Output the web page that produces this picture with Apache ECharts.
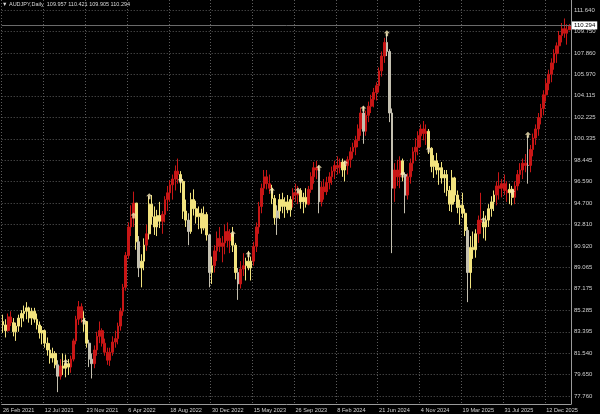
<!DOCTYPE html>
<html><head><meta charset="utf-8">
<script src="https://cdn.jsdelivr.net/npm/echarts@6/dist/echarts.min.js"></script>
<style>html,body{margin:0;padding:0;background:#000;}#c{width:600px;height:414px;}</style>
</head><body><div id="c"></div>
<script>
const headerText = 'AUDJPY,Daily  109.957 110.421 109.905 110.294';
const tickLabels = ['26 Feb 2021','12 Jul 2021','23 Nov 2021','6 Apr 2022','18 Aug 2022','30 Dec 2022','15 May 2023','26 Sep 2023','8 Feb 2024','21 Jun 2024','4 Nov 2024','19 Mar 2025','31 Jul 2025','12 Dec 2025'];
const barsPerLabel = 16;
const yTickValues = [77.760,79.650,81.540,83.395,85.285,87.175,89.065,90.920,92.810,94.700,96.590,98.445,100.335,102.225,104.115,105.970,107.860,109.750,111.640];
const lastPrice = 110.294;
const firstOpen = 84.3;
const closes = [
84.0,83.5,84.7,84.2,83.4,83.9,84.6,85.0,85.2,85.5,
84.6,85.2,84.5,84.0,83.3,83.5,82.4,81.8,81.1,81.5,
80.5,79.5,80.4,80.2,80.6,80.3,81.0,82.6,84.5,85.6,
84.6,84.3,82.4,81.0,80.6,81.8,83.0,83.5,82.4,81.6,
80.9,81.6,82.5,82.8,83.9,85.2,87.3,90.1,92.6,93.4,
94.7,91.3,89.0,89.6,91.0,92.0,94.6,93.5,92.6,93.6,
93.1,93.7,95.0,95.6,96.3,96.8,97.5,97.2,96.6,94.0,
93.2,92.2,95.0,94.2,93.5,93.8,92.5,93.7,91.9,88.6,
89.2,90.5,91.6,90.9,91.2,92.2,91.4,92.0,91.0,88.6,
87.6,88.9,89.2,89.6,89.0,89.6,90.9,92.6,94.4,96.0,
97.0,96.4,96.0,95.1,93.4,94.0,95.0,94.4,94.8,94.1,
95.0,95.6,95.4,95.8,94.8,95.2,94.6,95.9,97.0,97.8,
97.6,94.8,96.1,95.7,96.5,97.0,97.5,98.0,97.8,98.3,
97.6,98.0,98.5,99.2,99.6,100.2,101.2,102.6,101.0,102.4,
103.2,103.8,104.4,105.0,106.3,107.6,108.8,108.0,102.6,96.0,
97.6,97.0,98.4,97.2,95.4,97.0,98.2,99.2,99.6,100.6,
101.2,100.8,101.0,99.5,97.9,98.4,97.6,97.8,96.9,97.2,
95.8,94.6,96.9,95.4,94.3,94.5,93.8,92.3,88.6,90.8,
90.6,92.0,93.2,93.0,92.6,93.2,94.2,94.8,95.4,96.2,
96.0,96.4,95.8,95.6,95.9,95.2,96.2,97.2,97.6,98.2,
98.0,98.0,99.4,100.4,101.2,102.2,103.0,104.2,105.2,106.0,
107.0,107.8,108.5,109.4,110.0,109.6,109.9,110.294];
const lows = [
83.3,82.9,83.4,83.9,83.0,82.6,83.4,83.8,84.3,84.5,
84.2,84.0,84.2,83.6,82.8,82.3,82.0,81.3,80.6,80.7,
80.2,78.1,79.2,79.6,79.4,79.6,79.8,80.8,82.3,84.0,
84.2,83.4,82.0,80.3,79.3,80.2,81.3,82.4,82.1,81.3,
80.5,80.4,81.3,82.0,82.3,83.5,84.8,87.0,89.8,91.8,
92.6,90.6,88.2,87.3,88.8,90.5,91.5,92.8,91.9,91.8,
92.5,92.0,93.0,94.0,94.8,95.0,95.8,96.4,95.6,93.3,
92.6,91.0,92.0,93.6,92.9,92.4,92.0,92.3,91.4,87.3,
87.6,88.6,89.6,90.4,89.5,90.2,90.8,90.3,90.4,88.0,
86.2,87.2,88.3,87.9,88.8,87.9,89.2,90.4,92.0,93.8,
95.4,95.9,95.5,94.6,92.8,91.9,93.3,93.8,93.4,93.8,
93.5,94.3,94.8,94.6,94.2,93.8,94.3,94.5,95.6,96.4,
96.8,93.8,94.4,95.0,95.4,95.9,96.3,96.8,97.2,97.3,
97.0,96.6,97.2,97.8,98.6,98.9,99.6,100.6,99.9,100.6,
101.8,102.6,103.1,103.7,104.4,105.8,107.0,107.6,101.8,90.3,
94.8,96.2,96.0,96.6,93.8,95.0,96.4,97.5,98.4,98.9,
99.6,100.2,99.8,99.0,97.4,96.9,97.2,96.3,96.4,95.6,
95.3,94.0,93.9,94.8,93.8,92.8,93.4,91.8,86.0,87.2,
89.8,89.9,91.2,92.0,91.6,91.4,92.6,93.5,94.0,94.5,
95.0,95.2,95.4,94.8,94.6,94.5,94.6,95.8,96.4,96.8,
97.4,96.4,97.4,98.8,99.8,100.6,101.6,102.4,103.6,104.6,
105.3,106.4,107.0,107.8,108.8,109.2,108.6,109.905];
const highs = [
84.9,84.5,85.0,85.2,84.6,84.2,84.9,85.3,85.7,86.0,
85.6,85.5,85.5,85.0,84.3,83.9,83.6,82.9,82.4,82.0,
81.7,80.9,81.0,81.5,81.4,81.0,81.3,82.8,84.8,86.1,
85.9,85.2,84.0,82.7,81.5,82.2,83.4,84.3,83.7,82.8,
82.0,82.0,83.0,83.5,84.2,85.5,87.6,90.4,93.0,94.5,
95.7,94.5,91.8,90.2,91.6,92.8,95.3,95.4,94.4,94.1,
94.8,94.0,95.3,96.2,96.7,97.2,98.0,98.6,97.5,96.8,
95.0,93.8,95.6,95.9,94.9,94.4,94.2,94.4,93.9,92.0,
90.0,91.0,92.2,92.6,91.8,92.8,93.0,92.4,92.6,91.2,
89.0,89.6,90.3,89.9,90.5,90.0,91.3,93.0,94.8,96.4,
97.6,97.6,97.2,96.3,95.4,94.5,95.5,95.6,95.2,95.4,
95.3,96.0,96.4,96.2,96.0,95.6,96.0,96.2,97.4,98.3,
98.4,98.0,96.6,96.8,97.0,97.4,97.9,98.4,98.8,98.6,
98.6,98.4,98.8,99.6,100.0,100.6,101.6,103.1,103.2,102.8,
103.6,104.2,104.8,105.3,106.6,108.0,109.2,109.6,108.2,103.0,
98.2,98.5,98.8,98.6,97.4,97.3,98.6,99.6,100.4,101.0,
101.6,101.9,101.6,101.2,99.6,98.9,99.1,98.2,98.3,97.6,
97.6,96.2,97.6,97.0,95.8,95.0,95.6,94.2,92.6,91.8,
92.2,92.4,93.6,95.6,94.0,93.6,94.6,95.3,95.8,96.6,
97.4,96.8,97.2,96.6,96.4,96.2,96.6,97.6,98.2,98.6,
99.0,100.6,99.8,100.8,101.6,102.6,103.4,104.6,105.6,106.4,
107.4,108.2,108.8,109.8,110.5,110.9,110.4,110.421];
// trend state per bar: R = up-trend (red), Y = down-trend (yellow), G = spike bar (grey)
const trend = ('YYRRYYYYYY'+'YYYYYYYYYY'+'YGRYYYRRRR'+'RYYGGRRRRR'+'RRRRRRRRRR'+
  'RYGYYRYYYY'+'YRRRRRRRYY'+'YGYYYYYYYG'+'YRRRRRRRYY'+'GRRYYYRRRR'+
  'RRRYYGYYYY'+'YRRRYYYRRR'+'RGRRRRRRRR'+'YYRRRRRRGR'+'RRRRRRRGGG'+
  'RRRYGRRRRR'+'RRRYYYYYYY'+'YYYYYYYYGY'+'YYRRYYYYYR'+'RRRRYYRRRR'+
  'RGRRRRRRRR'+'RRRRRRRR').split('');
const arrowMarks = [[24,80.75],[31,84.3],[50,93.6],[56,95.3],[68,96.7],[88,92.0],[94,90.2],[103,95.8],[113,95.8],[121,97.8],[131,98.2],[138,103.0],[147,109.6],[153,97.2],[163,99.4],[184,93.2],[195,95.7],[201,100.7]];

const COL = {R:'#c81616', Y:'#f2e37e', G:'#c4c0b0'};
const categories = closes.map((_, i) => i % barsPerLabel === 0 ? tickLabels[i / barsPerLabel] : 'b' + i);
const candles = closes.map((c, i) => {
  const o = i === 0 ? firstOpen : closes[i - 1];
  const col = COL[trend[i]];
  return {value: [o, c, lows[i], highs[i]], itemStyle: {color: col, color0: col, borderColor: col, borderColor0: col}};
});

const chart = echarts.init(document.getElementById('c'), null, {renderer: 'canvas'});
const FONT = 'Liberation Sans';
chart.setOption({
  backgroundColor: '#000',
  animation: false,
  graphic: [{type: 'text', left: 2, top: 1, style: {text: '\u25BC ' + headerText, fill: '#d8d8d8', fontSize: 5.5, fontFamily: FONT}}],
  grid: {left: 0, right: 29, top: 0, bottom: 10},
  xAxis: {
    type: 'category', data: categories, boundaryGap: true,
    axisLine: {lineStyle: {color: '#9a9a9a'}},
    axisTick: {show: false},
    axisLabel: {interval: barsPerLabel - 1, align: 'left', color: '#d0d0d0', fontSize: 5.6, margin: 3, fontFamily: FONT},
    splitLine: {show: true, interval: barsPerLabel - 1, lineStyle: {color: '#5c5c5c', type: [1, 2]}}
  },
  yAxis: {
    type: 'value', position: 'right', min: 77.06, max: 112.52, scale: true,
    axisLine: {show: true, lineStyle: {color: '#9a9a9a'}},
    axisTick: {show: false, customValues: yTickValues},
    axisLabel: {customValues: yTickValues, formatter: v => v.toFixed(3), color: '#d0d0d0', fontSize: 6, margin: 3, fontFamily: FONT},
    splitLine: {show: true, lineStyle: {color: '#5c5c5c', type: [1, 2]}}
  },
  series: [{
    type: 'candlestick', data: candles, barWidth: 2.2,
    itemStyle: {borderWidth: 1},
    markLine: {
      silent: true, symbol: 'none', data: [{yAxis: lastPrice}],
      lineStyle: {color: '#6a6a6a', type: 'solid', width: 1},
      label: {position: 'end', distance: 1, formatter: lastPrice.toFixed(3), backgroundColor: '#ffffff', color: '#000', fontSize: 6, padding: [1, 2], fontFamily: FONT}
    }
  }, {
    type: 'scatter', data: arrowMarks,
    symbol: 'path://M5,0 L10,5 L7,5 L7,10 L3,10 L3,5 L0,5 Z', symbolSize: [6, 6],
    itemStyle: {color: '#f6e9b8'}, z: 5
  }]
});
</script></body></html>
